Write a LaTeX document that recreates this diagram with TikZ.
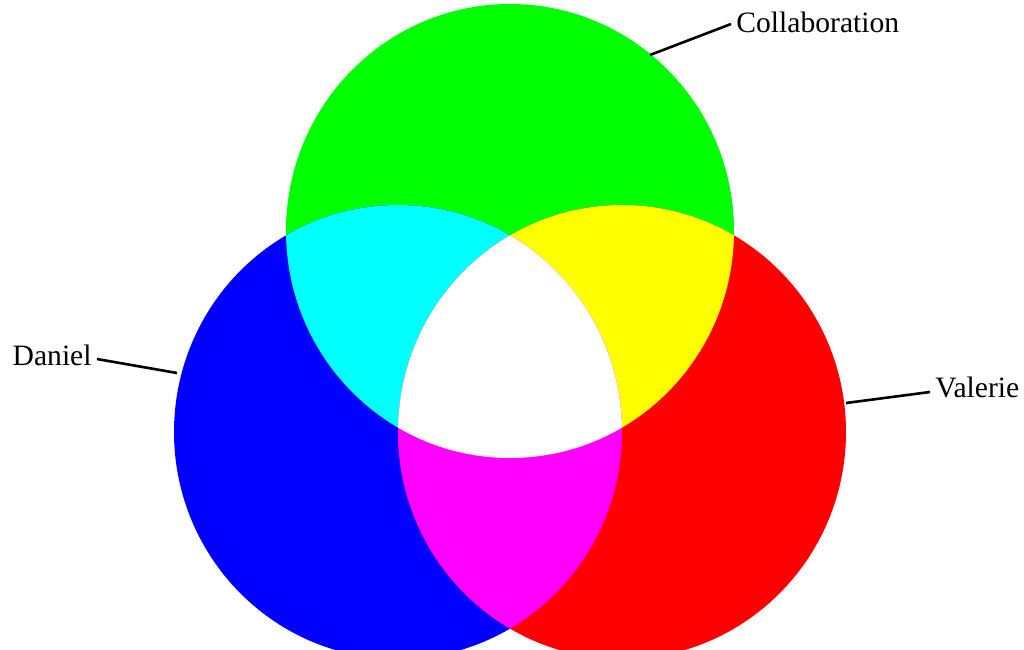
\documentclass[tikz,border=0pt]{standalone}
\usepackage{fontspec}
\setmainfont{Liberation Serif}
\definecolor{rgbred}{RGB}{255,0,0}
\definecolor{rgbgreen}{RGB}{0,255,0}
\definecolor{rgbblue}{RGB}{0,0,255}
\definecolor{rgbcyan}{RGB}{0,255,255}
\definecolor{rgbyellow}{RGB}{255,255,0}
\definecolor{rgbmagenta}{RGB}{255,0,255}
\usetikzlibrary{positioning}

\begin{document}
\begin{tikzpicture}[x=0.5pt, y=-0.5pt]
    \tikzset{
        label text/.style={font=\fontsize{14.8}{17}\selectfont, inner sep=2.5pt},
        pointer/.style={line width=1.3pt, black},
        disc/.style={x radius=224, y radius=227}
    }
    \useasboundingbox (0,0) rectangle (1024,649);
    \clip (0,0) rectangle (1024,649);

    % the three circles
    \fill[rgbgreen] (510,231) circle[disc];
    \fill[rgbblue] (398,432) circle[disc];
    \fill[rgbred] (622,432) circle[disc];

    % two-way overlaps
    \begin{scope}
        \clip (510,231) circle[disc];
        \fill[rgbcyan] (398,432) circle[disc];
    \end{scope}
    \begin{scope}
        \clip (510,231) circle[disc];
        \fill[rgbyellow] (622,432) circle[disc];
    \end{scope}
    \begin{scope}
        \clip (398,432) circle[disc];
        \fill[rgbmagenta] (622,432) circle[disc];
    \end{scope}

    % all three
    \begin{scope}
        \clip (510,231) circle[disc];
        \clip (398,432) circle[disc];
        \fill[white] (622,432) circle[disc];
    \end{scope}

    % labels
    \node[label text, anchor=west] (collab) at (731,22) {Collaboration};
    \node[label text, anchor=east] (daniel) at (97,355) {Daniel};
    \node[label text, anchor=west] (valerie) at (930,387) {Valerie};

    \coordinate (collabEnd) at (650,55);
    \coordinate (danielEnd) at (177,373);
    \coordinate (valerieEnd) at (846,403);

    \draw[pointer] (collabEnd) -- (collab.west |- 0,24);
    \draw[pointer] (daniel.east |- 0,359) -- (danielEnd);
    \draw[pointer] (valerieEnd) -- (valerie.west |- 0,392);
\end{tikzpicture}
\end{document}
